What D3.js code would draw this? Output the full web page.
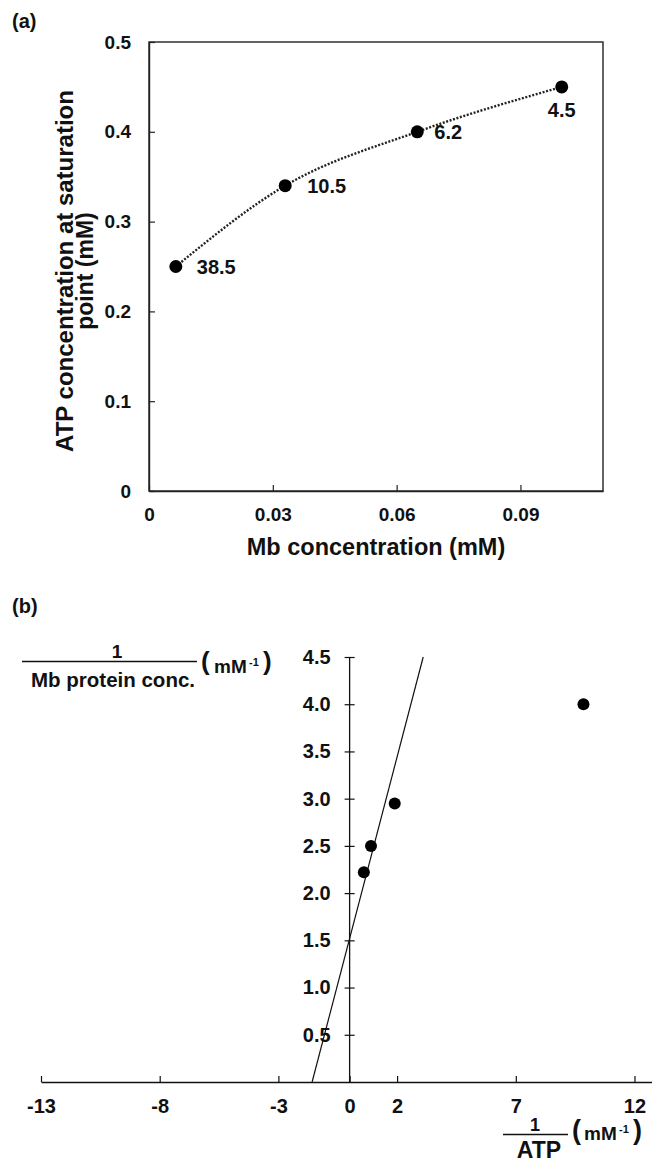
<!DOCTYPE html>
<html>
<head>
<meta charset="utf-8">
<script src="https://cdn.jsdelivr.net/npm/d3@7"></script>
<style>
  html, body { margin: 0; padding: 0; background: #fff; }
  svg { display: block; font-family: "Liberation Sans", Arial, sans-serif; font-weight: bold; }
</style>
</head>
<body>
<svg id="chart" width="652" height="1162"></svg>
<script>
// ---------- Panel (a) data ----------
const mbConc = [0.0065, 0.033, 0.065, 0.100];      // Mb concentration (mM)
const atpSat = [0.25, 0.34, 0.40, 0.45];           // ATP concentration at saturation point (mM)
const pointLabels = ["38.5", "10.5", "6.2", "4.5"];
const xTicksA = [0, 0.03, 0.06, 0.09];
const xTickLabelsA = ["0", "0.03", "0.06", "0.09"];
const yTicksA = [0, 0.1, 0.2, 0.3, 0.4, 0.5];
const yTickLabelsA = ["0", "0.1", "0.2", "0.3", "0.4", "0.5"];

// ---------- Panel (b) data ----------
const invATP = [0.6, 0.9, 1.9, 9.85];              // 1/ATP (mM^-1)
const invMb = [2.22, 2.5, 2.95, 4.0];              // 1/Mb protein conc. (mM^-1)
const fitLineX = [-1.58, 3.1];
const fitLineY = [0, 4.5];
const xTicksB = [-13, -8, -3, 0, 2, 7, 12];
const xTickLabelsB = ["-13", "-8", "-3", "0", "2", "7", "12"];
const yTicksB = [0.5, 1.0, 1.5, 2.0, 2.5, 3.0, 3.5, 4.0, 4.5];
const yTickLabelsB = ["0.5", "1.0", "1.5", "2.0", "2.5", "3.0", "3.5", "4.0", "4.5"];

const svg = d3.select("#chart");
svg.append("rect").attr("width", 652).attr("height", 1162).attr("fill", "#fff");
const INK = "#111";

// ================= Panel (a) =================
const xA = d3.scaleLinear().domain([0, 0.11]).range([149, 603]);
const yA = d3.scaleLinear().domain([0, 0.5]).range([491, 42]);

svg.append("text").attr("x", 12).attr("y", 28).attr("font-size", 20).attr("fill", INK).text("(a)");

// frame
svg.append("rect")
  .attr("x", xA(0)).attr("y", yA(0.5))
  .attr("width", xA(0.11) - xA(0)).attr("height", yA(0) - yA(0.5))
  .attr("fill", "none").attr("stroke", "#222").attr("stroke-width", 1.4);

const axA_x = svg.append("g").attr("transform", `translate(0,${yA(0)})`)
  .call(d3.axisBottom(xA).tickValues(xTicksA)
    .tickFormat((d, i) => xTickLabelsA[i])
    .tickSizeInner(-6).tickSizeOuter(0).tickPadding(17));
const axA_y = svg.append("g").attr("transform", `translate(${xA(0)},0)`)
  .call(d3.axisLeft(yA).tickValues(yTicksA)
    .tickFormat((d, i) => yTickLabelsA[i])
    .tickSizeInner(-6).tickSizeOuter(0).tickPadding(18));
[axA_x, axA_y].forEach(g => {
  g.select(".domain").attr("stroke", "#222").attr("stroke-width", 1.4);
  g.selectAll(".tick line").attr("stroke", "#222").attr("stroke-width", 1.2);
  g.selectAll(".tick text").attr("font-size", 19).attr("font-weight", "bold")
    .attr("font-family", "Liberation Sans, Arial, sans-serif").attr("fill", INK);
});

const ptsA = mbConc.map((d, i) => [d, atpSat[i]]);
svg.append("path")
  .datum(ptsA)
  .attr("d", d3.line().x(d => xA(d[0])).y(d => yA(d[1])).curve(d3.curveMonotoneX))
  .attr("fill", "none").attr("stroke", "#222").attr("stroke-width", 2.4)
  .attr("stroke-dasharray", "2,1.6");

svg.selectAll(".ptA").data(ptsA).enter().append("circle")
  .attr("cx", d => xA(d[0])).attr("cy", d => yA(d[1])).attr("r", 6.5).attr("fill", "#000");

// label placement (style): right of point, last one below
const labOff = [[21, 0, "start"], [22, 0, "start"], [17, 0, "start"], [0, 23, "middle"]];
svg.selectAll(".labA").data(ptsA).enter().append("text")
  .attr("x", (d, i) => xA(d[0]) + labOff[i][0])
  .attr("y", (d, i) => yA(d[1]) + labOff[i][1])
  .attr("dy", "0.36em")
  .attr("text-anchor", (d, i) => labOff[i][2])
  .attr("font-size", 20).attr("fill", INK)
  .text((d, i) => pointLabels[i]);

// axis titles
const yt = svg.append("text").attr("transform", "translate(0,271) rotate(-90)")
  .attr("text-anchor", "middle").attr("fill", INK);
yt.append("tspan").attr("x", 0).attr("y", 73).attr("font-size", 24).text("ATP concentration at saturation");
yt.append("tspan").attr("x", 0).attr("y", 93).attr("font-size", 23).text("point (mM)");

svg.append("text").attr("x", 376).attr("y", 555).attr("text-anchor", "middle")
  .attr("font-size", 23.5).attr("fill", INK).text("Mb concentration (mM)");

// ================= Panel (b) =================
const xB = d3.scaleLinear().domain([-13, 12.75]).range([41, 652.3]);
const yB = d3.scaleLinear().domain([0, 4.5]).range([1082, 657]);

svg.append("text").attr("x", 12).attr("y", 613).attr("font-size", 20).attr("fill", INK).text("(b)");

const axB_x = svg.append("g").attr("transform", `translate(0,${yB(0)})`)
  .call(d3.axisBottom(xB).tickValues(xTicksB)
    .tickFormat((d, i) => xTickLabelsB[i])
    .tickSizeInner(-6).tickSizeOuter(0).tickPadding(17));
const axB_y = svg.append("g").attr("transform", `translate(${xB(0)},0)`)
  .call(d3.axisLeft(yB).tickValues(yTicksB)
    .tickFormat((d, i) => yTickLabelsB[i])
    .tickSizeInner(5).tickSizeOuter(0).tickPadding(14));
axB_y.select(".domain").attr("d", `M0,${yB(0)}V${yB(4.5)}`);
axB_y.selectAll(".tick line").attr("x1", 5);
[axB_x, axB_y].forEach(g => {
  g.select(".domain").attr("stroke", INK).attr("stroke-width", 1.3);
  g.selectAll(".tick line").attr("stroke", INK).attr("stroke-width", 1.2);
  g.selectAll(".tick text").attr("font-size", 20).attr("font-weight", "bold")
    .attr("font-family", "Liberation Sans, Arial, sans-serif").attr("fill", INK);
});

svg.append("path")
  .datum(fitLineX.map((d, i) => [d, fitLineY[i]]))
  .attr("d", d3.line().x(d => xB(d[0])).y(d => yB(d[1])))
  .attr("fill", "none").attr("stroke", INK).attr("stroke-width", 1.2);

svg.selectAll(".ptB").data(invATP.map((d, i) => [d, invMb[i]])).enter().append("circle")
  .attr("cx", d => xB(d[0])).attr("cy", d => yB(d[1])).attr("r", 6).attr("fill", "#000");

// y title: 1 / Mb protein conc. (mM^-1)
svg.append("text").attr("x", 117).attr("y", 658).attr("text-anchor", "middle")
  .attr("font-size", 19).attr("fill", INK).text("1");
svg.append("line").attr("x1", 22).attr("x2", 197).attr("y1", 661.5).attr("y2", 661.5)
  .attr("stroke", INK).attr("stroke-width", 1.6);
svg.append("text").attr("x", 113).attr("y", 687).attr("text-anchor", "middle")
  .attr("font-size", 20.5).attr("fill", INK).text("Mb protein conc.");
svg.append("text").attr("x", 201).attr("y", 670).attr("font-size", 26).attr("fill", INK).text("(");
svg.append("text").attr("x", 214).attr("y", 673).attr("font-size", 19).attr("fill", INK).text("mM");
svg.append("text").attr("x", 249).attr("y", 666).attr("font-size", 11).attr("fill", INK).text("-1");
svg.append("text").attr("x", 263).attr("y", 670).attr("font-size", 26).attr("fill", INK).text(")");

// x title: 1 / ATP (mM^-1)
svg.append("text").attr("x", 535).attr("y", 1131).attr("text-anchor", "middle")
  .attr("font-size", 18).attr("fill", INK).text("1");
svg.append("line").attr("x1", 503).attr("x2", 568).attr("y1", 1134.5).attr("y2", 1134.5)
  .attr("stroke", INK).attr("stroke-width", 1.6);
svg.append("text").attr("x", 539).attr("y", 1158).attr("text-anchor", "middle")
  .attr("font-size", 23).attr("fill", INK).text("ATP");
svg.append("text").attr("x", 572).attr("y", 1139).attr("font-size", 27).attr("fill", INK).text("(");
svg.append("text").attr("x", 584).attr("y", 1140).attr("font-size", 19).attr("fill", INK).text("mM");
svg.append("text").attr("x", 619).attr("y", 1133).attr("font-size", 11).attr("fill", INK).text("-1");
svg.append("text").attr("x", 633).attr("y", 1139).attr("font-size", 27).attr("fill", INK).text(")");
</script>
</body>
</html>
